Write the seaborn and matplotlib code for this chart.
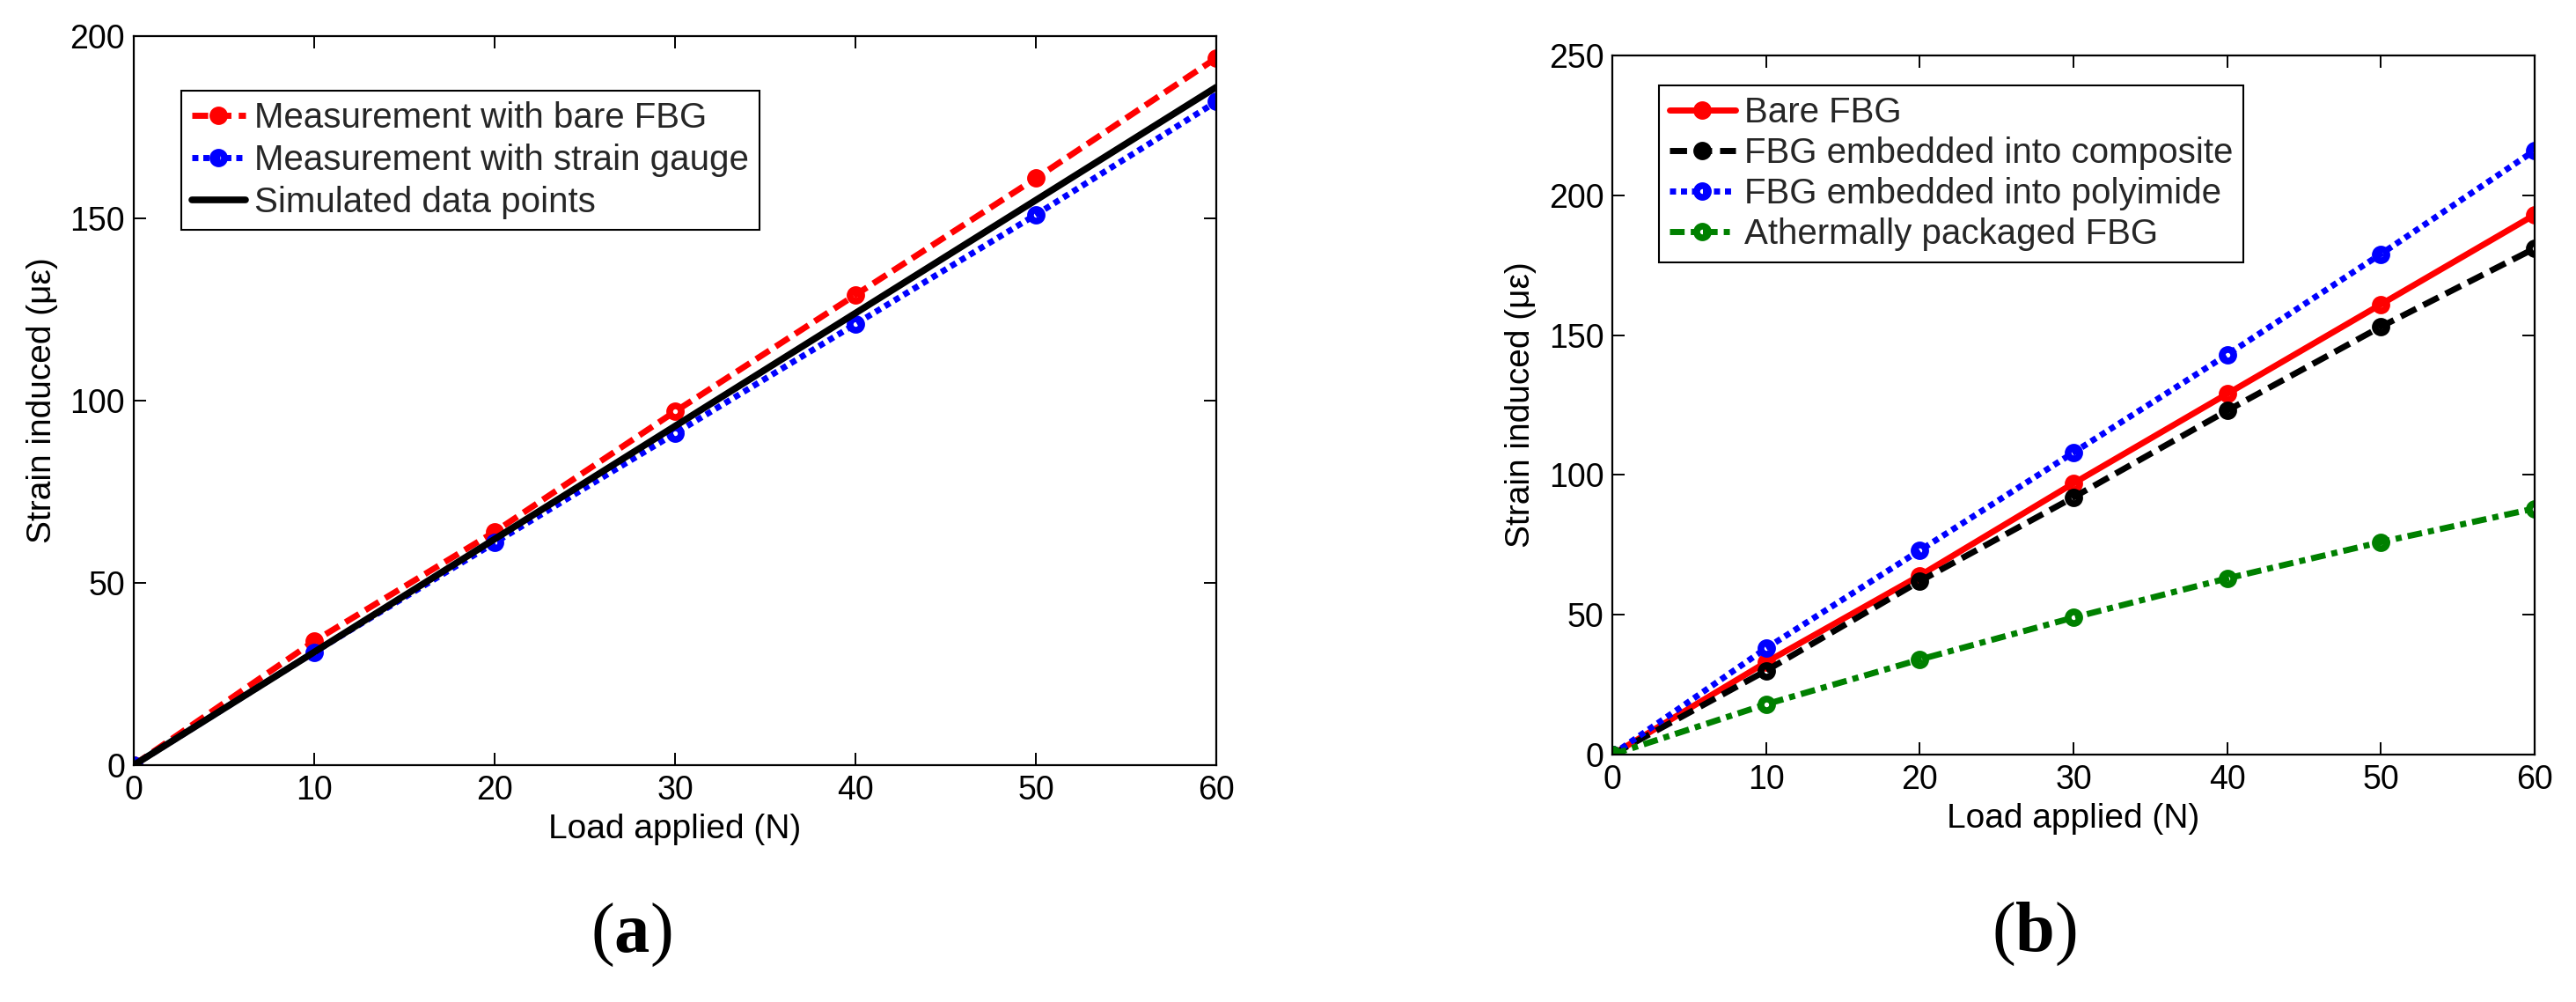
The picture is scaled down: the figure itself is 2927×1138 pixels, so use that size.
import numpy as np
import pandas as pd
import matplotlib
matplotlib.use("Agg")
import matplotlib.pyplot as plt
import seaborn as sns

# ---------------- data ----------------
load = [0, 10, 20, 30, 40, 50, 60]

a_bare_fbg = [0, 34, 64, 97, 129, 161, 194]
a_strain_gauge = [0, 31, 61, 91, 121, 151, 182]
a_simulated = [0, 31, 62, 93, 124, 155, 186]
labels_a = ["Measurement with bare FBG", "Measurement with strain gauge",
            "Simulated data points"]

b_bare = [0, 33, 64, 97, 129, 161, 193]
b_composite = [0, 30, 62, 92, 123, 153, 181]
b_polyimide = [0, 38, 73, 108, 143, 179, 216]
b_athermal = [0, 18, 34, 49, 63, 76, 88]
labels_b = ["Bare FBG", "FBG embedded into composite",
            "FBG embedded into polyimide", "Athermally packaged FBG"]

x_ticks = [0, 10, 20, 30, 40, 50, 60]
y_ticks_a = [0, 50, 100, 150, 200]
y_ticks_b = [0, 50, 100, 150, 200, 250]

xlabel = "Load applied (N)"
ylabel = "Strain induced (\u03bc\u03b5)"
panel_labels = [r"$(\mathbf{a})$", r"$(\mathbf{b})$"]

# ---------------- style ----------------
sns.set_theme(style="white")
plt.rcParams["font.family"] = ["Liberation Sans", "DejaVu Sans"]
plt.rcParams["mathtext.fontset"] = "custom"
plt.rcParams["mathtext.rm"] = "Liberation Serif"
plt.rcParams["mathtext.bf"] = "Liberation Serif:bold"

RED = "#ff0000"
BLUE = "#0000ff"
BLACK = "#000000"
GREEN = "#008000"

fig = plt.figure(figsize=(29.27, 11.38), dpi=100)
ax_a = fig.add_axes([0.0519, 0.2364, 0.4203, 0.7276])
ax_b = fig.add_axes([0.6259, 0.2469, 0.3580, 0.6977])

mk = dict(marker="o", markersize=9.5, markeredgewidth=5.5, markerfacecolor="none")


def draw(ax, y, label, color, ls, lw=5, marker=True):
    kws = dict(mk) if marker else {}
    if marker:
        kws["markeredgecolor"] = color
    sns.lineplot(x=load, y=y, ax=ax, color=color, linewidth=lw, linestyle=ls,
                 label=label, sort=False, **kws)


# panel a
draw(ax_a, a_bare_fbg, labels_a[0], RED, (0, (2.6, 1.2)))
draw(ax_a, a_strain_gauge, labels_a[1], BLUE, (0, (1.0, 0.8)))
draw(ax_a, a_simulated, labels_a[2], BLACK, "-", lw=5.5, marker=False)

# panel b
draw(ax_b, b_bare, labels_b[0], RED, "-")
draw(ax_b, b_composite, labels_b[1], BLACK, (0, (2.8, 1.3)))
draw(ax_b, b_polyimide, labels_b[2], BLUE, (0, (1.0, 0.8)))
draw(ax_b, b_athermal, labels_b[3], GREEN, (0, (2.4, 1.0, 1.0, 1.0)))


def style_axes(ax, yticks, ylim):
    ax.set_xlim(0, 60)
    ax.set_ylim(*ylim)
    ax.set_xticks(x_ticks)
    ax.set_yticks(yticks)
    ax.set_xticklabels([str(v) for v in x_ticks])
    ax.set_yticklabels([str(v) for v in yticks])
    for s in ax.spines.values():
        s.set_visible(True)
        s.set_color("black")
        s.set_linewidth(1.6)
    ax.tick_params(axis="both", which="major", direction="in", length=10,
                   width=1.4, color="black", labelsize=27, labelcolor="black",
                   bottom=True, left=True, top=True, right=True)
    ax.tick_params(axis="x", pad=8)
    ax.tick_params(axis="y", pad=7)
    ax.set_xlabel(xlabel, fontsize=28, color="black", labelpad=6)
    ax.set_ylabel(ylabel, fontsize=28, color="black", labelpad=10)
    ax.grid(False)
    ax.set_facecolor("white")


style_axes(ax_a, y_ticks_a, (0, 200))
style_axes(ax_b, y_ticks_b, (0, 250))

leg_a = ax_a.legend(loc="upper left", bbox_to_anchor=(0.044, 0.925),
                    borderaxespad=0, frameon=True, fancybox=False,
                    edgecolor="black", framealpha=1, fontsize=29,
                    handlelength=1.5, handletextpad=0.25, labelspacing=0.25,
                    borderpad=0.3)
leg_a.get_frame().set_linewidth(1.5)

leg_b = ax_b.legend(loc="upper left", bbox_to_anchor=(0.0506, 0.957),
                    borderaxespad=0, frameon=True, fancybox=False,
                    edgecolor="black", framealpha=1, fontsize=29,
                    handlelength=1.85, handletextpad=0.25, labelspacing=0.2,
                    borderpad=0.3)
leg_b.get_frame().set_linewidth(1.5)

fig.text(0.245, 0.067, panel_labels[0], ha="center", va="center",
         fontsize=58, color="black")
fig.text(0.7896, 0.068, panel_labels[1], ha="center", va="center",
         fontsize=58, color="black")

fig.patch.set_facecolor("white")
fig.savefig("out.png", dpi=100, facecolor="white")
